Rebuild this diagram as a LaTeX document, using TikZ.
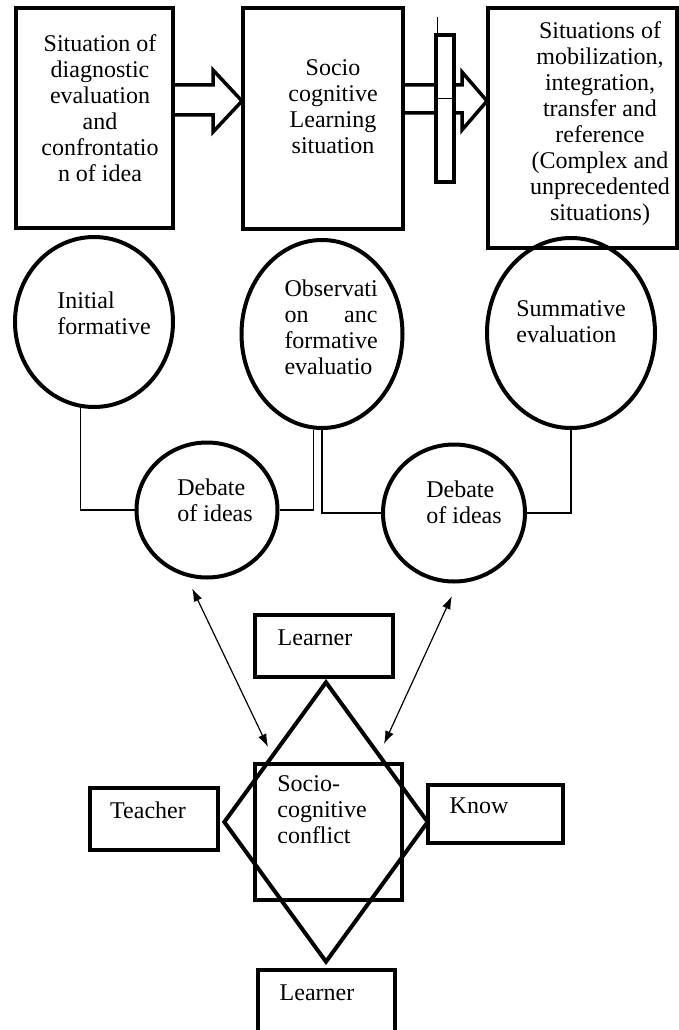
\documentclass[tikz,border=0pt]{standalone}
\usepackage{fontspec}
\setmainfont{Liberation Serif}
\usepackage{tikz}
\usetikzlibrary{shapes.geometric}
\usetikzlibrary{arrows.meta}
\tikzset{
	boxstyle/.style={rectangle,draw=black,line width=4pt,inner sep=0pt},
	ovalstyle/.style={ellipse,draw=black,line width=4pt,inner sep=0pt},
	textstyle/.style={inner sep=0pt,align=center},
	linkstyle/.style={draw=black,line width=1.2pt},
	arrowstyle/.style={line width=1.2pt,{Latex[length=13pt,width=9pt]}-{Latex[length=13pt,width=9pt]}},
	hollowstyle/.style={draw=black,line width=3.5pt,fill=white,line join=miter}
}

\begin{document}
\begin{tikzpicture}[x=1pt,y=-1pt]
	\fontsize{24}{26}\selectfont
	\useasboundingbox (0,0) rectangle (679,1030);
	% situations
	\node[boxstyle,minimum width=157pt,minimum height=220pt] (diag) at (94.5,118) {};
	\node[boxstyle,minimum width=160pt,minimum height=221pt] (learn) at (323,118.5) {};
	\node[boxstyle,minimum width=189pt,minimum height=240pt] (mobil) at (582.5,128) {};
	\node[textstyle] (diagtext) at (100,108) {Situation of\\diagnostic\\evaluation\\and\\confrontatio\\n of idea};
	\node[textstyle] (learntext) at (333,107) {Socio\\cognitive\\Learning\\situation};
	\node[textstyle] (mobiltext) at (600,124) {Situations of\\mobilization,\\integration,\\transfer and\\reference\\(Complex and\\unprecedented\\situations)};
	\draw[hollowstyle] (173,85)--(213,85)--(213,70)--(242,101)--(213,132)--(213,115)--(173,115)--cycle;
	\draw[hollowstyle] (403,85)--(462,85)--(462,72)--(487,101)--(462,130)--(462,113)--(403,113)--cycle;
	\draw[hollowstyle] (436,35) rectangle (454,182);
	\draw[line width=1pt] (436,99)--(454,99);
	\draw[line width=1pt] (437,17)--(437,35);
	% evaluations
	\node[ovalstyle,minimum width=158pt,minimum height=170pt] (ini) at (94,322) {};
	\node[ovalstyle,minimum width=161pt,minimum height=188pt] (obs) at (322,334) {};
	\node[ovalstyle,minimum width=168pt,minimum height=190pt] (sum) at (571,333) {};
	\node[textstyle,align=left] (initext) at (104,313) {Initial\\formative};
	\node[textstyle,align=left,text width=93pt] (obstext) at (331,327) {Observati\\\makebox[93pt]{on\hfill anc}\\formative\\evaluatio};
	\node[textstyle,align=left] (sumtext) at (571,322) {Summative\\evaluation};
	% debates
	\node[ovalstyle,minimum width=141pt,minimum height=135pt] (deb1) at (207,510) {};
	\node[ovalstyle,minimum width=142pt,minimum height=137pt] (deb2) at (454,513) {};
	\node[textstyle,align=left] (deb1text) at (215,500) {Debate\\of ideas};
	\node[textstyle,align=left] (deb2text) at (464,502) {Debate\\of ideas};
	\draw[linkstyle] (ini.-99) |- (deb1.west);
	\draw[linkstyle] (deb1.east) -| (obs.-95);
	\draw[linkstyle] (obs.south) |- (deb2.west);
	\draw[linkstyle] (deb2.east) -| (sum.south);
	% conflict
	\node[diamond,draw=black,line width=4pt,inner sep=0pt,minimum width=205pt,minimum height=281pt] (dia) at (326,822) {};
	\node[boxstyle,minimum width=147pt,minimum height=136pt] (conf) at (328.5,832) {};
	\node[textstyle,align=left] (conftext) at (322,810) {Socio-\\cognitive\\conflict};
	\node[boxstyle,minimum width=138pt,minimum height=62pt] (lrn1) at (324,646) {};
	\node[boxstyle,minimum width=128pt,minimum height=62pt] (teach) at (154,819) {};
	\node[boxstyle,minimum width=135pt,minimum height=58pt] (know) at (495.5,814) {};
	\node[boxstyle,minimum width=137pt,minimum height=64pt] (lrn2) at (326.5,1002) {};
	\node[textstyle] (lrn1text) at (315,638) {Learner};
	\node[textstyle] (teachtext) at (148,810) {Teacher};
	\node[textstyle] (knowtext) at (479,806) {Know};
	\node[textstyle] (lrn2text) at (317,993) {Learner};
	\coordinate (tipl) at (268,747);
	\coordinate (tipr) at (384,744);
	\draw[arrowstyle,shorten <=13pt] (deb1.-107) -- (tipl);
	\draw[arrowstyle,shorten <=14pt] (deb2.-87) -- (tipr);
\end{tikzpicture}
\end{document}
